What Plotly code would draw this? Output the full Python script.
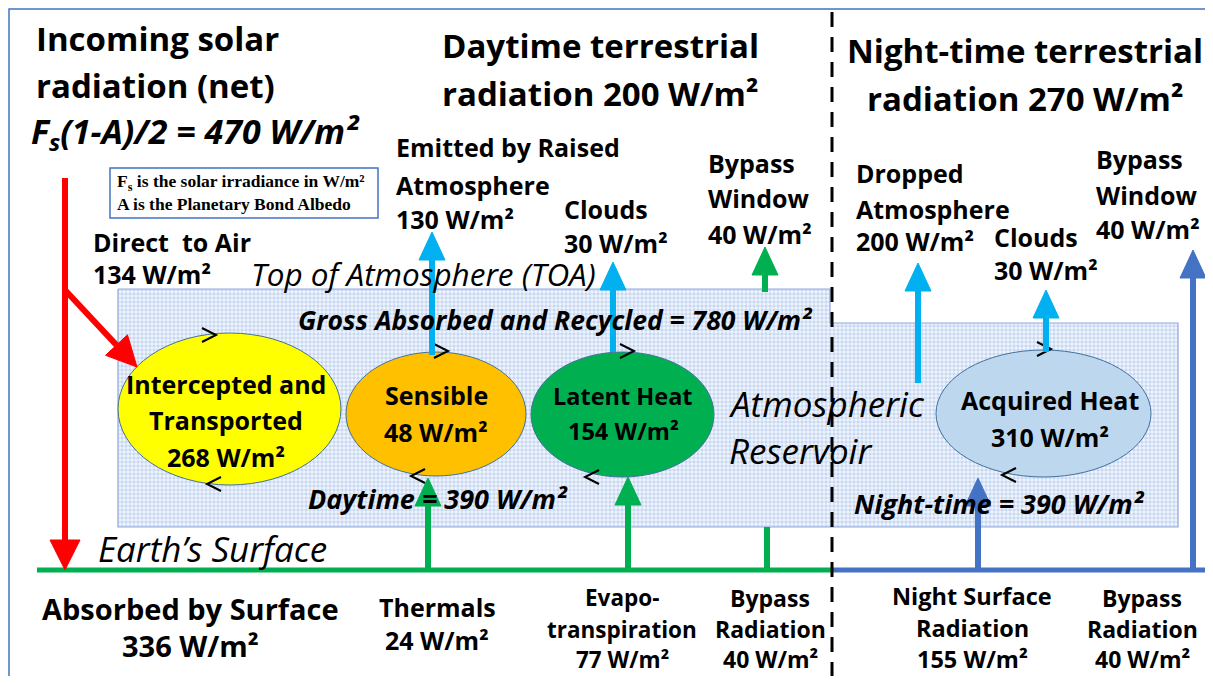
import numpy as np
import plotly.graph_objects as go

# ---------------- data (W/m²) ----------------
solar_net = 470
direct_to_air = 134
absorbed_surface = 336
day_terrestrial = 200
night_terrestrial = 270
gross_recycled = 780
daytime_total = 390
nighttime_total = 390

reservoir_names = ["Intercepted and<br>Transported", "Sensible", "Latent Heat", "Acquired Heat"]
reservoir_values = [268, 48, 154, 310]

toa_names = ["Emitted by Raised<br>Atmosphere", "Clouds", "Bypass<br>Window",
             "Dropped<br>Atmosphere", "Clouds", "Bypass<br>Window"]
toa_values = [130, 30, 40, 200, 30, 40]

surface_names = ["Thermals", "Evapo-<br>transpiration", "Bypass<br>Radiation",
                 "Night Surface<br>Radiation", "Bypass<br>Radiation"]
surface_values = [24, 77, 40, 155, 40]

# ---------------- layout / style ----------------
W, H = 1213, 684
PAD = 8  # default page margin of the html body
FONT = "Open Sans"
RED, GREEN, LBLUE, DBLUE = "#FF0000", "#00B050", "#00B0F0", "#4472C4"

fig = go.Figure()
shapes, annots = [], []


def wm(v):
    return f"{v} W/m²"


def text(x, y, s, size=25, anchor="left", bold=True, italic=False, family=FONT, color="black"):
    annots.append(dict(x=x, y=y, text=s, showarrow=False, xref="x", yref="y",
                       xanchor=anchor, yanchor="middle", borderpad=0,
                       font=dict(family=family, size=size, color=color,
                                 weight="bold" if bold else "normal",
                                 style="italic" if italic else "normal")))


def lines(x, ys, parts, **kw):
    for y, p in zip(ys, parts):
        text(x, y, p, **kw)


def arrow(x0, y0, x1, y1, color, width=6, head_len=28, head_w=13, head=True):
    d = np.array([x1 - x0, y1 - y0], float)
    L = np.hypot(*d)
    u = d / L
    n = np.array([-u[1], u[0]])
    end = np.array([x1, y1]) - (u * head_len if head else 0)
    shapes.append(dict(type="line", xref="x", yref="y", x0=x0, y0=y0, x1=end[0], y1=end[1],
                       line=dict(color=color, width=width)))
    if head:
        tip = np.array([x1, y1])
        b1 = end + n * head_w
        b2 = end - n * head_w
        shapes.append(dict(type="path", xref="x", yref="y",
                           path=f"M {tip[0]},{tip[1]} L {b1[0]},{b1[1]} L {b2[0]},{b2[1]} Z",
                           fillcolor=color, line=dict(color=color, width=1)))


def chevron(x, y, direction):
    dx = 7 * direction
    shapes.append(dict(type="path", xref="x", yref="y",
                       path=f"M {x - dx},{y - 7} L {x + dx},{y} L {x - dx},{y + 7}",
                       line=dict(color="black", width=2)))


# outer frame
shapes.append(dict(type="rect", xref="x", yref="y", x0=9, y0=9, x1=1207, y1=690,
                   line=dict(color="#4472C4", width=1.5), layer="below"))

# atmospheric reservoir (hatched)
res_x = [118, 830, 830, 1178, 1178, 118, 118]
res_y = [289, 289, 323, 323, 527, 527, 289]
fig.add_trace(go.Scatter(x=res_x, y=res_y, mode="lines", fill="toself",
                         line=dict(color="#8FAADC", width=1.2),
                         fillcolor="#DCE6F4",
                         fillpattern=dict(shape=".", size=4, solidity=0.6,
                                          fgcolor="#9FB9E4", bgcolor="#F2F6FC"),
                         hoverinfo="skip", showlegend=False))

# reservoir ellipses
ell_box = [(118, 341, 333, 485), (346, 526, 352, 476), (531, 714, 352, 477), (936, 1151, 350, 477)]
ell_col = ["#FFFF00", "#FFC000", "#00B050", "#BDD7EE"]
for (x0, x1, y0, y1), c in zip(ell_box, ell_col):
    shapes.append(dict(type="circle", xref="x", yref="y", x0=x0, x1=x1, y0=y0, y1=y1,
                       fillcolor=c, line=dict(color="#41719C", width=1)))

# circulation chevrons (clockwise flow marks on each ellipse)
chev = [(209, 335, 1), (214, 484, -1), (441, 351, 1), (418, 476, -1),
        (627, 351, 1), (592, 477, -1), (1044, 349, 1), (1009, 475, -1)]
for x, y, d in chev:
    chevron(x, y, d)

# ground lines
shapes.append(dict(type="line", xref="x", yref="y", x0=37, x1=832, y0=570, y1=570,
                   line=dict(color=GREEN, width=5)))
shapes.append(dict(type="line", xref="x", yref="y", x0=832, x1=1205, y0=570, y1=570,
                   line=dict(color=DBLUE, width=5)))

# day / night divider
shapes.append(dict(type="line", xref="x", yref="y", x0=832, x1=832, y0=12, y1=680,
                   line=dict(color="black", width=3, dash="15px,10px")))

# arrows
arrow(65, 178, 65, 570, RED, head_len=30, head_w=15)
arrow(65, 290, 137, 367, RED, head_len=30, head_w=15)
arrow(432, 355, 432, 232, LBLUE)
arrow(613, 352, 613, 262, LBLUE)
arrow(765, 292, 765, 247, GREEN)
arrow(918, 383, 918, 263, LBLUE)
arrow(1046, 352, 1046, 290, LBLUE)
arrow(1193, 570, 1193, 250, DBLUE)
arrow(428, 570, 428, 478, GREEN)
arrow(628, 570, 628, 477, GREEN)
arrow(767, 570, 767, 527, GREEN, head=False)
arrow(978, 570, 978, 478, DBLUE)

# definition box
shapes.append(dict(type="rect", xref="x", yref="y", x0=110, y0=168, x1=378, y1=218,
                   fillcolor="white", line=dict(color="#4472C4", width=1.5)))
text(116, 182, "F<sub>s</sub> is the solar irradiance in W/m²", size=17.5,
     family="Liberation Serif")
text(116, 204, "A is the Planetary Bond Albedo", size=17.5, family="Liberation Serif")

# headings
lines(35, [38, 85], ["Incoming solar", "radiation (net)"], size=33)
text(30, 133, f"F<sub>s</sub>(1-A)/2 = {solar_net} W/m²", size=34, italic=True)
lines(600, [45, 93], ["Daytime terrestrial", f"radiation {day_terrestrial} W/m²"], size=33, anchor="center")
lines(1025, [50, 98], ["Night-time terrestrial", f"radiation {night_terrestrial} W/m²"], size=33, anchor="center")

lines(92, [242, 274], ["Direct  to Air", wm(direct_to_air)], size=25)

# TOA labels
toa_pos = [(395, [147, 185, 219]), (563, [209, 243]), (707, [163, 198, 234]),
           (855, [173, 209, 241]), (993, [237, 270]), (1095, [159, 195, 229])]
for (x, ys), name, v in zip(toa_pos, toa_names, toa_values):
    lines(x, ys, name.split("<br>") + [wm(v)], size=25)

text(250, 273, "Top of Atmosphere (TOA)", size=31.5, bold=False, italic=True)
text(555, 320, f"Gross Absorbed and Recycled = {gross_recycled} W/m²", size=26.5, italic=True, anchor="center")

# reservoir labels
res_pos = [(226, [384, 420, 457]), (436, [395, 432]), (623, [396, 431]), (1050, [400, 437])]
res_size = [25, 25, 23.5, 25]
for (x, ys), name, v, s in zip(res_pos, reservoir_names, reservoir_values, res_size):
    lines(x, ys, name.split("<br>") + [wm(v)], size=s, anchor="center")

lines(728, [403, 450], ["Atmospheric", "Reservoir"], size=35, bold=False, italic=True)
text(438, 498, f"Daytime = {daytime_total} W/m²", size=27, italic=True, anchor="center")
text(999, 503, f"Night-time = {nighttime_total} W/m²", size=27, italic=True, anchor="center")
text(97, 548, "Earth’s Surface", size=35, bold=False, italic=True)

# surface labels
lines(190, [608, 645], ["Absorbed by Surface", wm(absorbed_surface)], size=29, anchor="center")
surf_pos = [(437, [607, 640]), (622, [597, 629, 659]), (770, [598, 629, 659]),
            (972, [596, 628, 659]), (1142, [598, 629, 659])]
surf_size = [25, 22.5, 23, 23.5, 23]
for (x, ys), name, v, s in zip(surf_pos, surface_names, surface_values, surf_size):
    lines(x, ys, name.split("<br>") + [wm(v)], size=s, anchor="center")

# figure occupies the page minus the html body margin, mapped 1:1 to window pixels
fig.update_layout(
    width=W - 2 * PAD, height=H - 2 * PAD, margin=dict(l=0, r=0, t=0, b=0),
    paper_bgcolor="white", plot_bgcolor="white",
    xaxis=dict(range=[PAD, W - PAD], visible=False, fixedrange=True),
    yaxis=dict(range=[H - PAD, PAD], visible=False, fixedrange=True),
    shapes=shapes, annotations=annots, showlegend=False,
)
fig.write_html("out.html")
